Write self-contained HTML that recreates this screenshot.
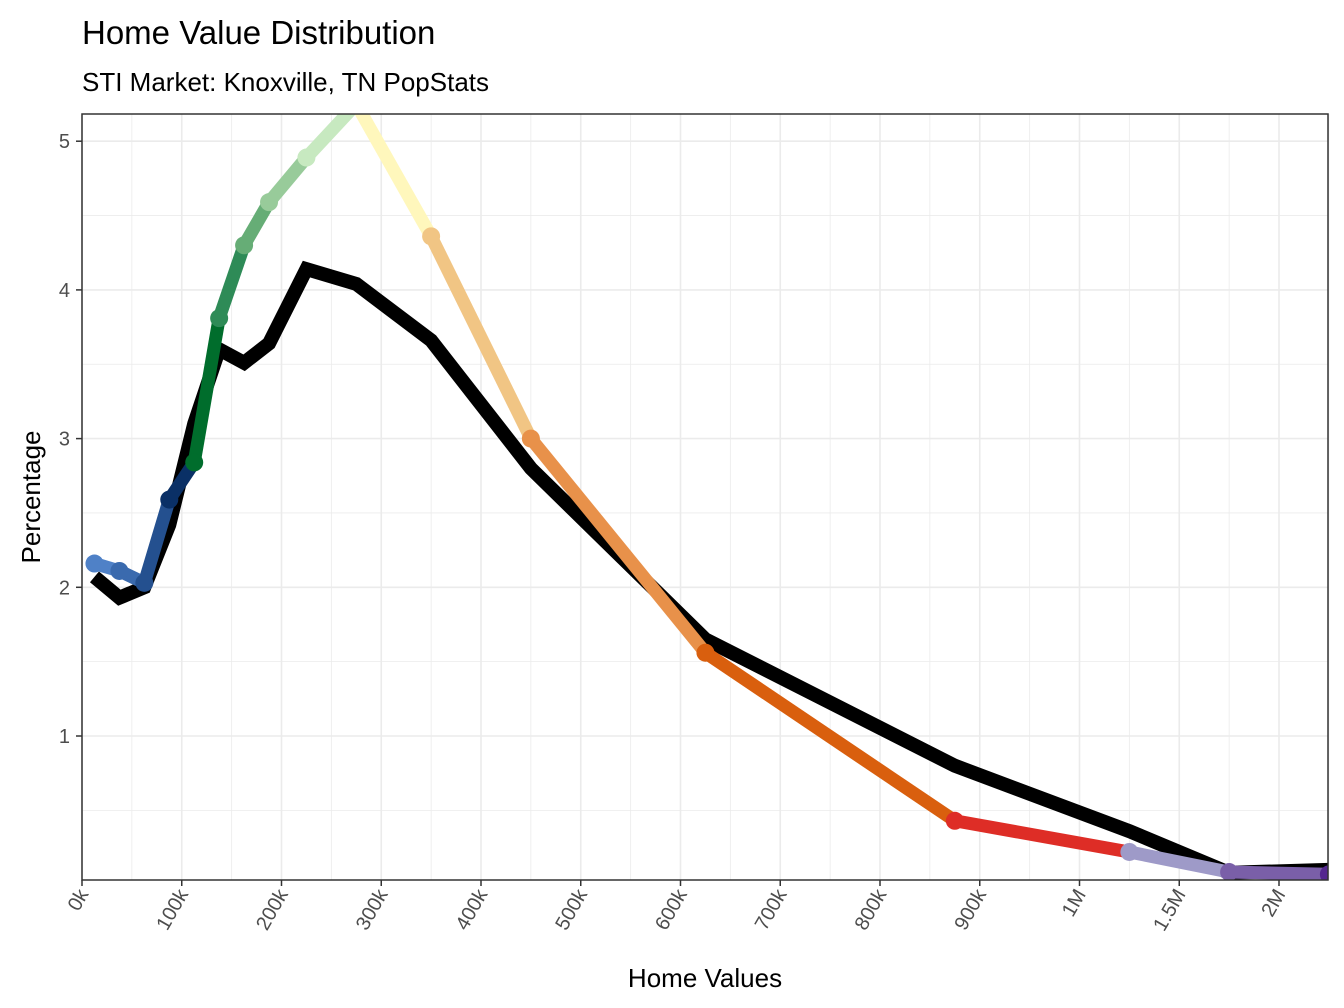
<!DOCTYPE html>
<html><head><meta charset="utf-8"><style>body{margin:0;background:#fff}svg{display:block}</style></head>
<body>
<svg id="chart" width="1344" height="1008" xmlns="http://www.w3.org/2000/svg" font-family="Liberation Sans, Arial, sans-serif">
<defs><clipPath id="pc"><rect x="82" y="114" width="1246" height="766"/></clipPath></defs>
<text x="82" y="44" font-size="33" fill="#000">Home Value Distribution</text>
<text x="82" y="91" font-size="26" fill="#000">STI Market: Knoxville, TN PopStats</text>
<rect x="82" y="114" width="1246" height="766" fill="#fff"/>
<g id="grid"></g>
<g id="series" clip-path="url(#pc)"></g>
<rect x="82" y="114" width="1246" height="766" fill="none" stroke="#333" stroke-width="1.5"/>
<g id="axes"></g>
<text x="705" y="987" font-size="26" text-anchor="middle">Home Values</text>
<text transform="translate(40,497) rotate(-90)" font-size="26" text-anchor="middle">Percentage</text>
</svg>
<script>
const xValues = [12.5, 37.5, 62.5, 87.5, 112.5, 137.5, 162.5, 187.5, 225, 275, 350, 450, 625, 875, 1250, 1750, 2250];
const marketValues = [2.16, 2.11, 2.03, 2.59, 2.84, 3.81, 4.30, 4.59, 4.89, 5.25, 4.36, 3.0, 1.56, 0.43, 0.22, 0.085, 0.07];
const benchmarkValues = [2.07, 1.93, 2.0, 2.42, 3.1, 3.6, 3.51, 3.64, 4.14, 4.04, 3.66, 2.8, 1.65, 0.8, 0.36, 0.08, 0.1];
const pointColors = ["#4f81c7","#3a6aae","#24508f","#0a3066","#006d2c","#2e8b57","#66ad76","#98cb9a","#c7e9c0","#fff7bc","#f1c584","#e8914a","#d95f0e","#de2d26","#9e9ac8","#7a5fa8","#54278f"];
const segColors = ["#4f81c7","#3a6aae","#24508f","#0a3066","#006d2c","#2e8b57","#66ad76","#98cb9a","#c7e9c0","#fff7bc","#f1c584","#e8914a","#d95f0e","#de2d26","#9e9ac8","#7a5fa8"];
const xTickValues = [0,100,200,300,400,500,600,700,800,900,1000,1500,2000];
const xTickLabels = ["0k","100k","200k","300k","400k","500k","600k","700k","800k","900k","1M","1.5M","2M"];
const yTickValues = [1,2,3,4,5];

const NS = "http://www.w3.org/2000/svg";
function xs(v){ return v <= 1000 ? 82 + v*0.9975 : 1079.5 + (v-1000)*0.1995; }
function ys(v){ return 884.7 - v*148.7; }
function mk(tag, attrs, parent){ const e=document.createElementNS(NS,tag); for(const k in attrs) e.setAttribute(k,attrs[k]); parent.appendChild(e); return e; }

const grid=document.getElementById('grid'), axes=document.getElementById('axes'), series=document.getElementById('series');
// minor grid
const xMinor=[50,150,250,350,450,550,650,750,850,950,1250,1750,2250];
xMinor.forEach(v=>{const l=mk('line',{x1:xs(v),x2:xs(v),y1:114,y2:880,stroke:'#ebebeb','stroke-width':0.8},grid);

});
[0.5,1.5,2.5,3.5,4.5].forEach(v=>{const l=mk('line',{x1:82,x2:1328,y1:ys(v),y2:ys(v),stroke:'#ebebeb','stroke-width':0.8},grid);

});
xTickValues.forEach((v,i)=>{
  const l=mk('line',{x1:xs(v),x2:xs(v),y1:114,y2:880,stroke:'#ebebeb','stroke-width':1.6},grid);
  
  
  const t=mk('line',{x1:xs(v),x2:xs(v),y1:880,y2:886,stroke:'#333','stroke-width':1.5},axes);
  
  
  const tx=mk('text',{x:0,y:0,'font-size':20,fill:'#4d4d4d','text-anchor':'end',transform:`translate(${xs(v)+7},894) rotate(-60)`},axes);
  tx.textContent=xTickLabels[i];
  
  
});
yTickValues.forEach(v=>{
  const l=mk('line',{x1:82,x2:1328,y1:ys(v),y2:ys(v),stroke:'#ebebeb','stroke-width':1.6},grid);
  
  
  const t=mk('line',{x1:76,x2:82,y1:ys(v),y2:ys(v),stroke:'#333','stroke-width':1.5},axes);
  
  
  const tx=mk('text',{x:70,y:ys(v)+7,'font-size':20,fill:'#4d4d4d','text-anchor':'end'},axes);
  tx.textContent=String(v);
  
  
});
// benchmark black line
const bp=mk('polyline',{points:xValues.map((x,i)=>xs(x)+','+ys(benchmarkValues[i])).join(' '),fill:'none',stroke:'#000','stroke-width':14,'stroke-linejoin':'miter'},series);


// market colored segments
for(let i=0;i<xValues.length-1;i++){
  const s=mk('line',{x1:xs(xValues[i]),y1:ys(marketValues[i]),x2:xs(xValues[i+1]),y2:ys(marketValues[i+1]),stroke:segColors[i],'stroke-width':13},series);
  
  
  const c=mk('circle',{cx:xs(xValues[i]),cy:ys(marketValues[i]),r:9,fill:pointColors[i]},series);
  
  
}
const last=xValues.length-1;
const c=mk('circle',{cx:xs(xValues[last]),cy:ys(marketValues[last]),r:9,fill:pointColors[last]},series);


</script>
</body></html>
